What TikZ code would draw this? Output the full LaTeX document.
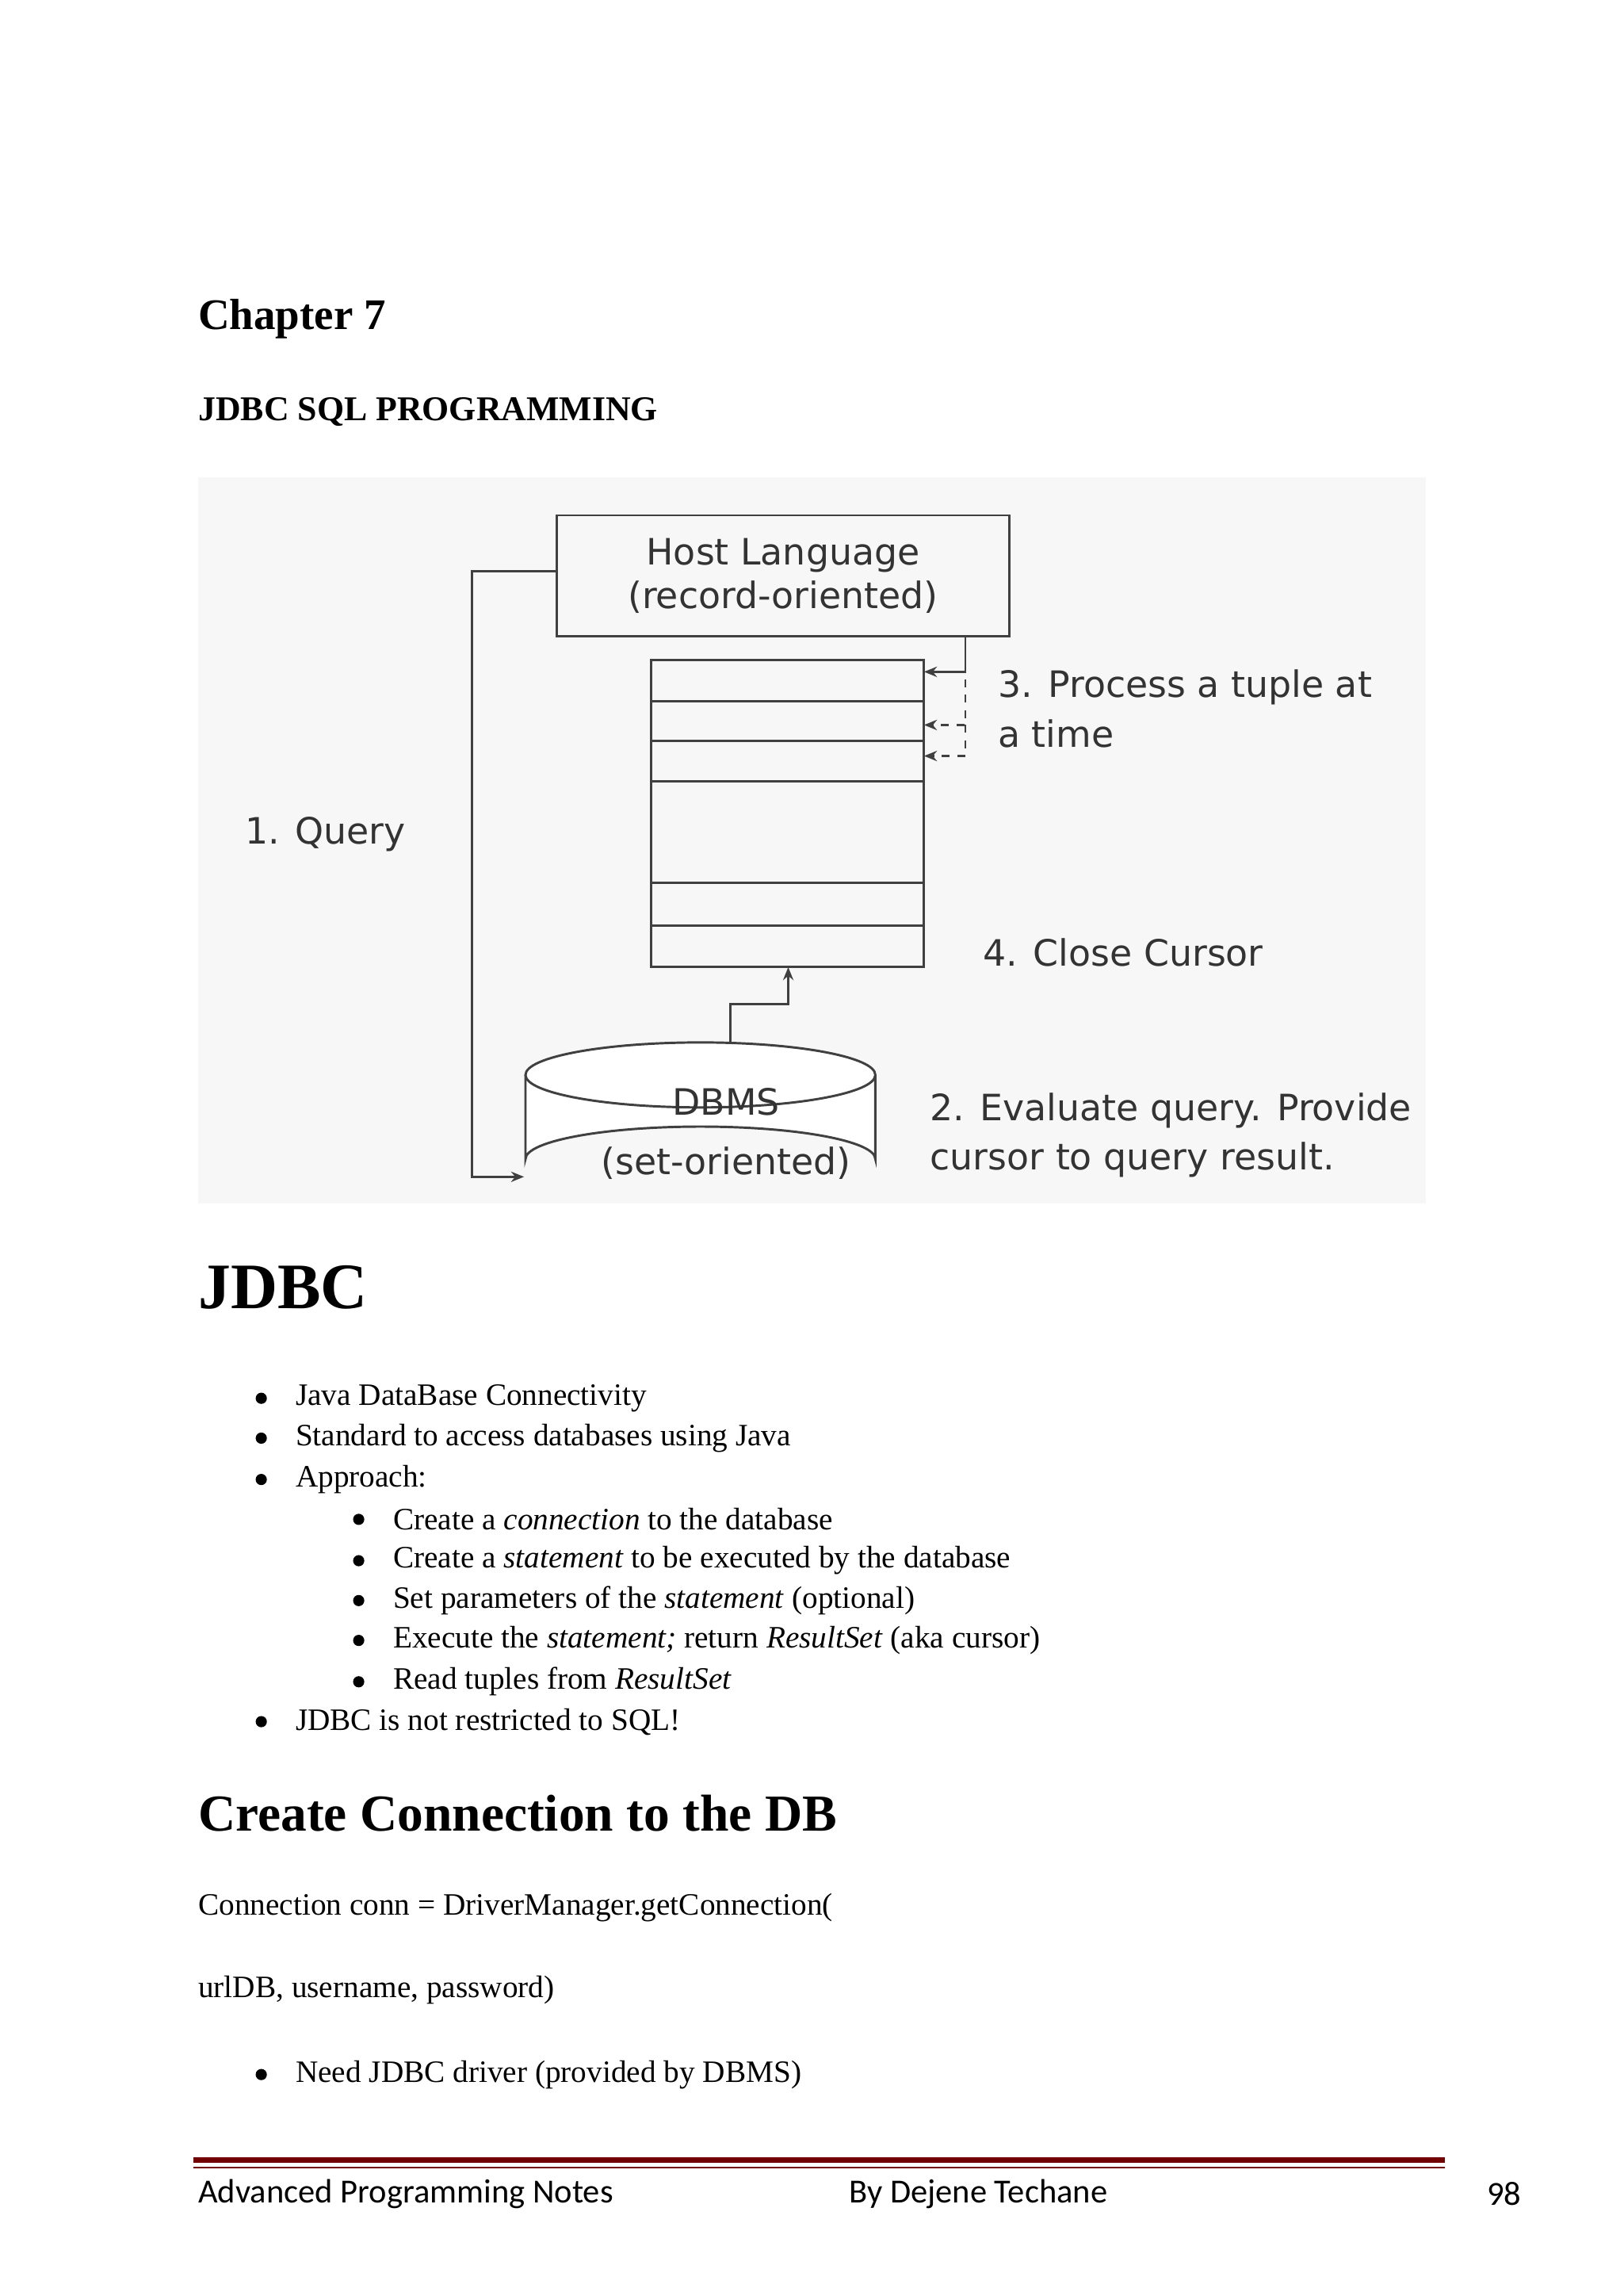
\documentclass[tikz,border=0pt]{standalone}
\usepackage{fontspec}
\setmainfont{Liberation Serif}
\newfontfamily\djvfont{DejaVu Sans}
\newfontfamily\carlfont{Carlito}
\usetikzlibrary{arrows.meta}
\begin{document}
\begin{tikzpicture}[x=0.02cm,y=-0.02cm,
 lab/.style={font=\djvfont\fontsize{14}{19}\selectfont,anchor=west,align=left,text=black!80},
 body/.style={font=\fontsize{12}{14}\selectfont,anchor=west,inner sep=0},
 ln/.style={draw=black!75,line width=0.9pt},
 arr/.style={ln,-{Stealth[length=5pt,width=4pt]}}]
\useasboundingbox (0,0) rectangle (1100,1555);
\fill[white] (0,0) rectangle (1100,1555);
\node[body,font=\bfseries\fontsize{16.8}{19}\selectfont] (ch) at (134,216) {Chapter 7};
\node[body,font=\bfseries\fontsize{13.4}{15}\selectfont] (t1) at (134,279) {JDBC SQL PROGRAMMING};
\fill[black!3] (134,323) rectangle (966,815);
% host
\node[ln,draw,minimum width=6.14cm,minimum height=1.64cm,align=center,font=\djvfont\fontsize{14}{17}\selectfont,text=black!80] (host) at (530.5,390) {Host Language\\(record-oriented)};
% stack
\draw[ln] (441,447) rectangle (626,655);
\foreach \yy in {475,502,529,598,627} \draw[ln] (441,\yy) -- (626,\yy);
\coordinate (stk) at (534,655);
% DBMS cylinder
\draw[ln,fill=white] (356,728) -- (356,785) arc[start angle=180,end angle=360,x radius=118.5,y radius=22] -- (593,728);
\draw[ln,fill=white] (474.5,728) ellipse[x radius=118.5,y radius=22];
\node[font=\djvfont\fontsize{14}{17}\selectfont,text=black!80] (dbms) at (492,746) {DBMS};
\node[font=\djvfont\fontsize{14}{17}\selectfont,text=black!80] at (492,788) {(set-oriented)};
\coordinate (dbtop) at (495,706);
\coordinate (dbleft) at (355,797);
% arrows
\draw[arr] (host.west|-0,387) -- (320,387) -- (320,797) -- (dbleft);
\draw[arr] (dbtop) -- (495,680) -- (534,680) -- (stk);
\draw[arr] (654,431) -- (654,455) -- (626,455);
\draw[arr,dashed] (654,460) -- (654,491) -- (626,491);
\draw[arr,dashed] (654,491) -- (654,512) -- (626,512);
\node[lab] (l3) at (670,480) {3. Process a tuple at\\a time};
\node[lab] (l1) at (160,565) {1. Query};
\node[lab] (l4) at (660,645) {4. Close Cursor};
\node[lab] (l2) at (624,769) {2. Evaluate query. Provide\\cursor to query result.};
% JDBC
\node[body,font=\bfseries\fontsize{25}{28}\selectfont] (jd) at (134,872) {JDBC};
\foreach \yy/\xx/\tt in {947/0/{Java DataBase Connectivity},974/0/{Standard to access databases using Java},1002/0/{Approach:},
 1029/1/{Create a \textit{connection} to the database},1057/1/{Create a \textit{statement} to be executed by the database},
 1084/1/{Set parameters of the \textit{statement} (optional)},1111/1/{Execute the \textit{statement;} return \textit{ResultSet} (aka cursor)},
 1139/1/{Read tuples from \textit{ResultSet}},1166/0/{JDBC is not restricted to SQL!},1405/0/{Need JDBC driver (provided by DBMS)}}{
 \fill (177+66*\xx,\yy) circle (3.8);
 \node[body] at (200+66*\xx,\yy) {\tt};}
\node[body,font=\bfseries\fontsize{20}{22}\selectfont] (cc) at (134,1228) {Create Connection to the DB};
\node[body] (c1) at (134,1292) {Connection conn = DriverManager.getConnection(};
\node[body] (c2) at (134,1348) {urlDB, username, password)};
% footer
\draw[red!45!black,line width=2pt] (131,1463) -- (979,1463);
\draw[red!45!black,line width=0.7pt] (131,1468) -- (979,1468);
\node[body,font=\carlfont\fontsize{13}{15}\selectfont] (f1) at (134,1486) {Advanced Programming Notes};
\node[body,font=\carlfont\fontsize{13}{15}\selectfont] (f2) at (575,1486) {By Dejene Techane};
\node[body,font=\carlfont\fontsize{13}{15}\selectfont,anchor=east] (f3) at (1031,1486) {98};
\end{tikzpicture}
\end{document}
